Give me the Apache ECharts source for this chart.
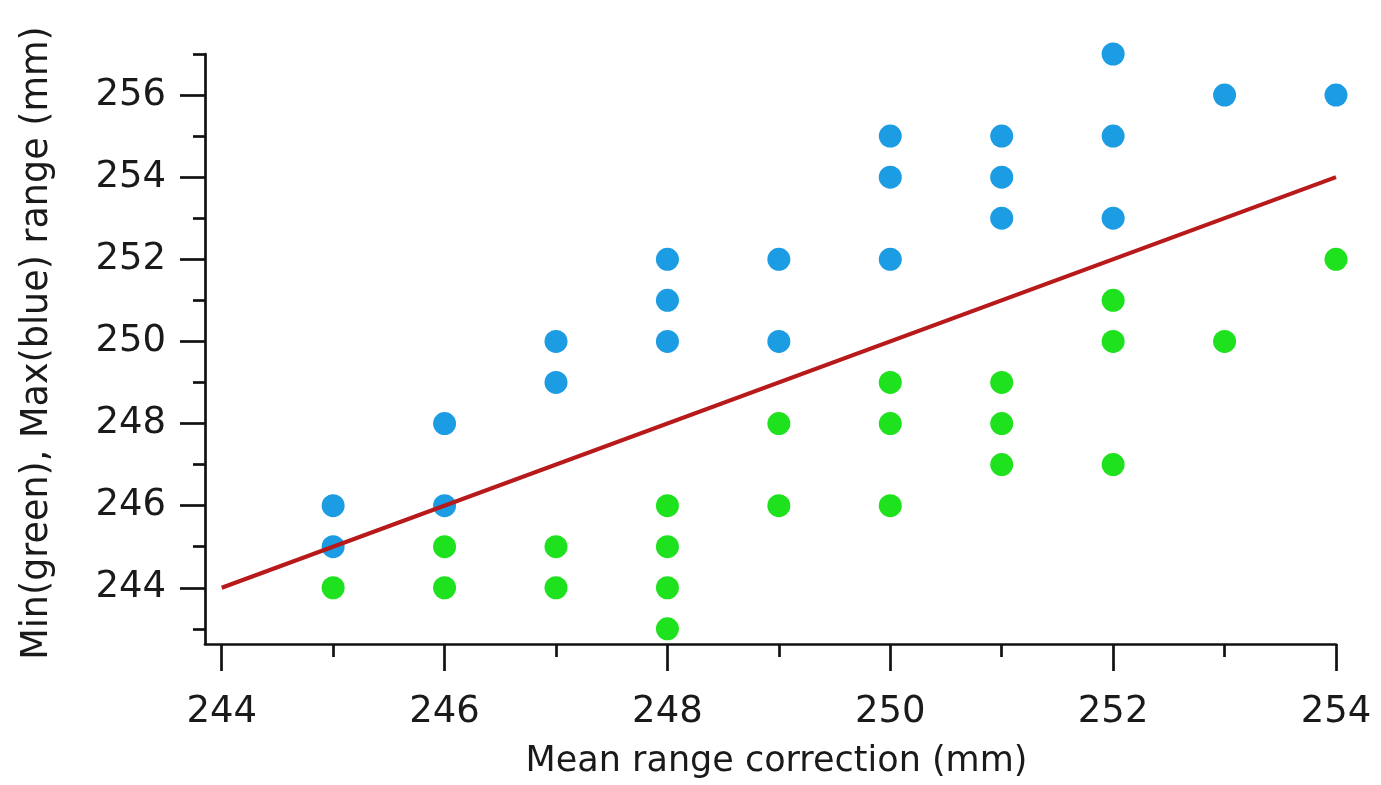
<!DOCTYPE html>
<html>
<head>
<meta charset="utf-8">
<script src="https://cdn.jsdelivr.net/npm/echarts@6/dist/echarts.min.js"></script>
<style>
html,body{margin:0;padding:0;background:#fff;}
#chart{width:1381px;height:785px;}
</style>
</head>
<body>
<div id="chart"></div>
<script>
// ---- data ----
const maxX = [245,245,246,246,247,247,248,248,248,249,249,250,250,250,251,251,251,252,252,252,253,254];
const maxY = [246,245,248,246,250,249,252,251,250,252,250,255,254,252,255,254,253,257,255,253,256,256];
const minX = [245,246,246,247,247,248,248,248,248,249,249,250,250,250,251,251,251,252,252,252,253,254];
const minY = [244,245,244,245,244,246,245,244,243,248,246,249,248,246,249,248,247,251,250,247,250,252];
const lineX = [244,254];
const lineY = [244,254];
const xMajorTicks = [244,246,248,250,252,254];
const xMinorTicks = [245,247,249,251,253];
const yMajorTicks = [244,246,248,250,252,254,256];
const yMinorTicks = [243,245,247,249,251,253,255,257];
const xTitle = 'Mean range correction (mm)';
const yTitle = 'Min(green), Max(blue) range (mm)';

const zip = (a,b) => a.map((v,i)=>[v,b[i]]);
const FONT = 'DejaVu Sans';
const TXT = '#1a1a1a';
const X_MIN = 243.85, X_MAX = 254, Y_MIN = 242.63, Y_MAX = 257;

const chart = echarts.init(document.getElementById('chart'), null, {renderer:'canvas'});
chart.setOption({
  animation:false,
  backgroundColor:'#ffffff',
  grid:{left:205,right:45,top:54,bottom:141,containLabel:false},
  xAxis:[
    {type:'value',min:X_MIN,max:X_MAX,position:'bottom',
     axisLine:{show:true,onZero:false,lineStyle:{color:'#111',width:2.7}},
     axisTick:{show:true,customValues:xMajorTicks,length:27,lineStyle:{color:'#111',width:2.7}},
     axisLabel:{show:true,customValues:xMajorTicks,fontFamily:FONT,fontSize:37,color:TXT,margin:50},
     splitLine:{show:false},
     name:xTitle,nameLocation:'middle',nameGap:100,
     nameTextStyle:{fontFamily:FONT,fontSize:35,color:TXT,padding:[0,0,0,12]}},
    {type:'value',min:X_MIN,max:X_MAX,position:'bottom',
     axisLine:{show:false,onZero:false},
     axisTick:{show:true,customValues:xMinorTicks,length:13,lineStyle:{color:'#111',width:2.7}},
     axisLabel:{show:false},splitLine:{show:false}}
  ],
  yAxis:[
    {type:'value',min:Y_MIN,max:Y_MAX,position:'left',
     axisLine:{show:true,onZero:false,lineStyle:{color:'#111',width:2.7}},
     axisTick:{show:true,customValues:yMajorTicks,length:25,lineStyle:{color:'#111',width:2.7}},
     axisLabel:{show:true,customValues:yMajorTicks,fontFamily:FONT,fontSize:37,color:TXT,margin:39},
     splitLine:{show:false},
     name:yTitle,nameLocation:'middle',nameGap:149,nameRotate:90,
     nameTextStyle:{fontFamily:FONT,fontSize:36.5,color:TXT,padding:[0,0,0,12]}},
    {type:'value',min:Y_MIN,max:Y_MAX,position:'left',
     axisLine:{show:false,onZero:false},
     axisTick:{show:true,customValues:yMinorTicks,length:12,lineStyle:{color:'#111',width:2.7}},
     axisLabel:{show:false},splitLine:{show:false}}
  ],
  series:[
    {name:'Max',type:'scatter',xAxisIndex:0,yAxisIndex:0,data:zip(maxX,maxY),
     symbol:'circle',symbolSize:23,itemStyle:{color:'#1c9ce3',opacity:1},z:2},
    {name:'Min',type:'scatter',xAxisIndex:0,yAxisIndex:0,data:zip(minX,minY),
     symbol:'circle',symbolSize:23,itemStyle:{color:'#1fe21f',opacity:1},z:2},
    {name:'Fit',type:'line',xAxisIndex:0,yAxisIndex:0,data:zip(lineX,lineY),
     symbol:'none',lineStyle:{color:'#b8191a',width:4},z:5}
  ]
});
</script>
</body>
</html>
